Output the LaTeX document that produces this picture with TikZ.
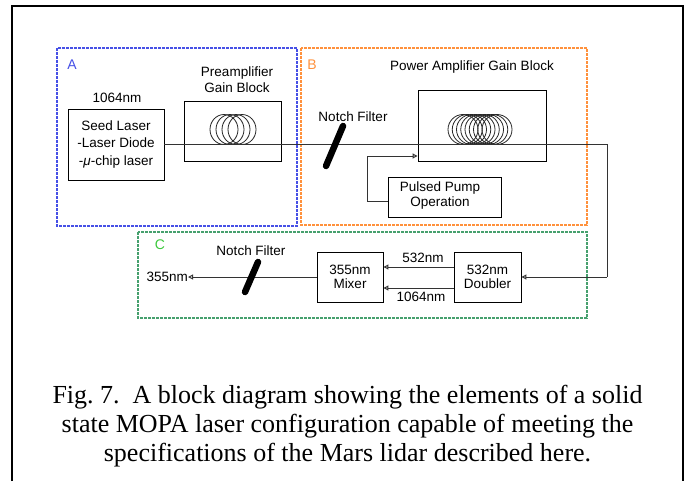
\documentclass[tikz,border=0pt]{standalone}
\usepackage{fontspec}
\setmainfont{Liberation Serif}
\setsansfont{Liberation Sans}
\usetikzlibrary{arrows.meta}
\definecolor{zoneA}{RGB}{70,80,230}
\definecolor{zoneB}{RGB}{255,145,60}
\definecolor{zoneC}{RGB}{70,160,110}
\definecolor{letterC}{RGB}{60,200,60}
\frenchspacing
\begin{document}
\begin{tikzpicture}[x=1pt,y=-1pt,
  blockbox/.style={draw, line width=0.9pt, inner sep=0pt, align=center,
    font=\sffamily\fontsize{13.5}{14.5}\selectfont},
  lbl/.style={inner sep=0pt, align=center, font=\sffamily\fontsize{13.5}{16}\selectfont},
  zoneletter/.style={inner sep=0pt, font=\sffamily\fontsize{14}{16}\selectfont},
  zone/.style={dash pattern=on 3pt off 1pt, line width=1.3pt},
  fiber/.style={line width=1pt, draw=black!80},
  opentip/.style={-{Triangle[open,length=5pt,width=5pt]}},
  filter/.style={line width=6.5pt, line cap=round},
  coil/.style={line width=0.8pt, draw=black!85},
  captionline/.style={anchor=base, inner sep=0pt, font=\fontsize{26}{30}\selectfont}]
\useasboundingbox (0,0) rectangle (692,481);

% outer frame
\draw[line width=2.5pt] (12,481) -- (12,6) -- (683,6) -- (683,481);

% dashed zones A, B, C
\draw[zone, zoneA] (57,48) rectangle (297,226);
\draw[zone, zoneB] (301,48) rectangle (587,225);
\draw[zone, zoneC] (138,232) rectangle (587,318);
\node[zoneletter, text=zoneA] (lA) at (72,65) {A};
\node[zoneletter, text=zoneB] (lB) at (312,65) {B};
\node[zoneletter, text=letterC] (lC) at (160,245) {C};

% zone A: seed laser and preamplifier
\node[blockbox, minimum width=96pt, minimum height=71pt,
  font=\sffamily\fontsize{13.5}{17.5}\selectfont] (seed) at (116,144.5)
  {Seed Laser\\-Laser Diode\\ -{\itshape μ}-chip laser};
\node[lbl] (seedwl) at (117,98) {1064nm};
\node[blockbox, minimum width=97pt, minimum height=60pt] (preamp) at (232.5,131) {};
\node[lbl] (preamplbl) at (237,80) {Preamplifier\\Gain Block};
\foreach \i in {0,...,3}
  \draw[coil] (224+6*\i,129.5) ellipse [x radius=14, y radius=15];

% zone B: notch filter, power amplifier and pump
\node[lbl] (notchB) at (353,117) {Notch Filter};
\node[blockbox, minimum width=128pt, minimum height=71pt] (power) at (482,125.5) {};
\node[lbl] (powerlbl) at (472,67) {Power Amplifier Gain Block};
\foreach \i in {0,...,8}
  \draw[coil] (463+4.25*\i,129.5) ellipse [x radius=15, y radius=15];
\node[blockbox, minimum width=113pt, minimum height=40pt] (pump) at (444.5,197) {};
\node[lbl, font=\sffamily\fontsize{13.5}{15}\selectfont] (pumplbl) at (440,196) {Pulsed Pump\\Operation};

% zone C: mixer and doubler
\node[blockbox, minimum width=66pt, minimum height=50pt] (mixer) at (350,277) {355nm\\Mixer};
\node[blockbox, minimum width=67pt, minimum height=50pt] (doubler) at (487.5,277) {532nm\\Doubler};
\node[lbl] (g532) at (423,258) {532nm};
\node[lbl] (g1064) at (421,297) {1064nm};
\node[lbl] (notchC) at (251,251) {Notch Filter};
\node[lbl, anchor=east] (out355) at (188,277) {355nm};

% fiber path from the seed laser to the doubler
\coordinate (turnA) at (607,145);
\coordinate (turnB) at (607,277);
\draw[fiber] (seed.east |- turnA) -- (turnA) -- (turnB);
\draw[fiber, opentip] (turnB) -- (doubler.east);

% pump feed into the power amplifier
\coordinate (pumpbend) at (367,156);
\draw[fiber, opentip] ([yshift=-4pt]pump.west) -| (pumpbend) -- (pumpbend -| power.west);

% beams inside zone C
\draw[fiber, opentip] ([yshift=10pt]doubler.west) -- ([yshift=10pt]mixer.east);
\draw[fiber, opentip] ([yshift=-11pt]doubler.west) -- ([yshift=-11pt]mixer.east);
\draw[fiber, opentip] (mixer.west) -- (out355.east);

% notch filters
\draw[filter] (343,126) -- (326,166);
\draw[filter] (258,262) -- (245,292);

% caption, each line centred
\node[captionline] (cap1) at (347.5,403) {Fig. 7.\ \ A block diagram showing the elements of a solid};
\node[captionline] (cap2) at (347.5,432) {state MOPA laser configuration capable of meeting the};
\node[captionline] (cap3) at (347.5,461) {specifications of the Mars lidar described here.};
\end{tikzpicture}
\end{document}
